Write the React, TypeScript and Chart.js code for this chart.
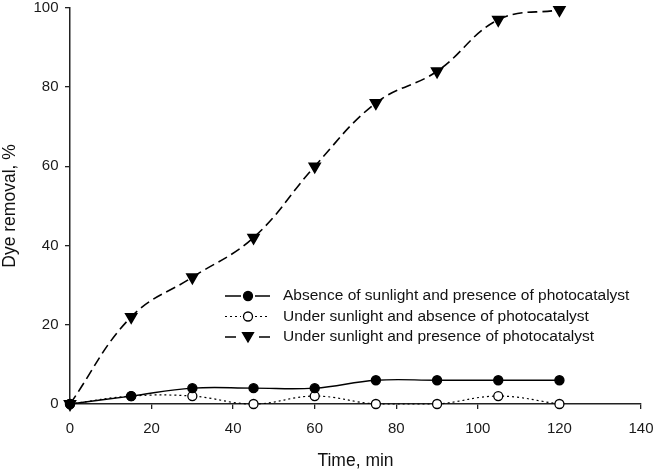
import React, { useEffect, useRef } from "react";
import { Chart, registerables } from "chart.js";

Chart.register(...registerables);

const times = [0, 15, 30, 45, 60, 75, 90, 105, 120];
const darkPresenceCat = [0, 2, 4, 4, 4, 6, 6, 6, 6];
const sunAbsenceCat = [0, 2, 2, 0, 2, 0, 0, 2, 0];
const sunPresenceCat = [0, 22, 32, 42, 60, 76, 84, 97, 99.5];
const seriesLabels = [
  "Absence of sunlight and presence of photocatalyst",
  "Under sunlight and absence of photocatalyst",
  "Under sunlight and presence of photocatalyst",
];
const xTicks = [0, 20, 40, 60, 80, 100, 120, 140];
const yTicks = [0, 20, 40, 60, 80, 100];

const FONT = "'Liberation Sans', Arial, sans-serif";

const legendPlugin = {
  id: "customLegend",
  afterDraw(chart: any) {
    const ctx = chart.ctx;
    const x0 = 225, x1 = 270, xm = 248, tx = 283;
    const rows = [296, 316.5, 337];
    ctx.save();
    chart.data.datasets.forEach((ds: any, i: number) => {
      const y = rows[i];
      ctx.strokeStyle = "#000";
      ctx.lineWidth = ds.borderWidth;
      if (i === 2) {
        ctx.beginPath();
        ctx.moveTo(x0, y);
        ctx.lineTo(x0 + 11, y);
        ctx.moveTo(x1 - 11, y);
        ctx.lineTo(x1, y);
        ctx.stroke();
      } else {
        ctx.setLineDash(ds.borderDash || []);
        ctx.beginPath();
        ctx.moveTo(x0, y);
        ctx.lineTo(x1, y);
        ctx.stroke();
        ctx.setLineDash([]);
      }
      ctx.fillStyle = "#fff";
      ctx.fillRect(xm - 7, y - 7, 14, 14);
      ctx.beginPath();
      if (ds.pointStyle === "triangle") {
        const r = 5.5;
        ctx.moveTo(xm - r, y - r * 0.8);
        ctx.lineTo(xm + r, y - r * 0.8);
        ctx.lineTo(xm, y + r * 0.9);
        ctx.closePath();
      } else {
        ctx.arc(xm, y, 4.5, 0, Math.PI * 2);
      }
      ctx.fillStyle = ds.pointBackgroundColor;
      ctx.fill();
      ctx.lineWidth = 1.3;
      ctx.stroke();
      ctx.fillStyle = "#111";
      ctx.font = `15.5px ${FONT}`;
      ctx.textBaseline = "middle";
      ctx.textAlign = "left";
      ctx.fillText(seriesLabels[i], tx, y);
    });
    ctx.restore();
  },
};

export default function App() {
  const ref = useRef<HTMLCanvasElement>(null);
  useEffect(() => {
    const chart = new Chart(ref.current!, {
      type: "line",
      data: {
        datasets: [
          {
            label: seriesLabels[0],
            data: times.map((t, i) => ({ x: t, y: darkPresenceCat[i] })),
            borderColor: "#000",
            borderWidth: 1.4,
            pointStyle: "circle",
            pointRadius: 4.5,
            pointBackgroundColor: "#000",
            pointBorderColor: "#000",
            tension: 0.4,
            clip: false,
          },
          {
            label: seriesLabels[1],
            data: times.map((t, i) => ({ x: t, y: sunAbsenceCat[i] })),
            borderColor: "#000",
            borderWidth: 1.2,
            borderDash: [2, 3],
            pointStyle: "circle",
            pointRadius: 4.5,
            pointBackgroundColor: "#fff",
            pointBorderColor: "#000",
            pointBorderWidth: 1.3,
            tension: 0.4,
            clip: false,
          },
          {
            label: seriesLabels[2],
            data: times.map((t, i) => ({ x: t, y: sunPresenceCat[i] })),
            borderColor: "#000",
            borderWidth: 1.6,
            borderDash: [10, 5],
            pointStyle: "triangle",
            rotation: 180,
            pointRadius: 6.3,
            pointBackgroundColor: "#000",
            pointBorderColor: "#000",
            tension: 0.4,
            clip: false,
          },
        ],
      },
      options: {
        animation: false,
        responsive: false,
        layout: { padding: { top: 5, right: 13, left: 0, bottom: 0 } },
        plugins: { legend: { display: false }, tooltip: { enabled: false } },
        scales: {
          x: {
            type: "linear",
            min: 0,
            max: 140,
            afterBuildTicks: (s: any) => {
              s.ticks = xTicks.map((v) => ({ value: v }));
            },
            afterFit: (s: any) => {
              s.height = 68;
              s.paddingLeft = 0;
              s.paddingRight = 0;
            },
            ticks: { color: "#1a1a1a", font: { family: FONT, size: 15 }, padding: 11 },
            grid: { display: true, drawOnChartArea: false, drawTicks: true, tickLength: 5, color: "#222", lineWidth: 1.3 },
            border: { display: true, color: "#222", width: 1.5 },
            title: { display: true, text: "Time, min", color: "#111", font: { family: FONT, size: 17.5 }, padding: 0 },
          },
          y: {
            type: "linear",
            min: 0,
            max: 100,
            afterBuildTicks: (s: any) => {
              s.ticks = yTicks.map((v) => ({ value: v }));
            },
            afterFit: (s: any) => {
              s.width = 70;
              s.paddingTop = 0;
              s.paddingBottom = 0;
            },
            ticks: { color: "#1a1a1a", font: { family: FONT, size: 15 }, padding: 6.5 },
            grid: { display: true, drawOnChartArea: false, drawTicks: true, tickLength: 5, color: "#222", lineWidth: 1.3 },
            border: { display: true, color: "#222", width: 1.5 },
            title: { display: true, text: "Dye removal, %", color: "#111", font: { family: FONT, size: 17.5 }, padding: 0 },
          },
        },
      },
      plugins: [legendPlugin],
    });
    return () => chart.destroy();
  }, []);
  return (
    <div style={{ position: "fixed", left: 0, top: 0, width: 654, height: 472, background: "#fff" }}>
      <canvas ref={ref} width={654} height={472} />
    </div>
  );
}
